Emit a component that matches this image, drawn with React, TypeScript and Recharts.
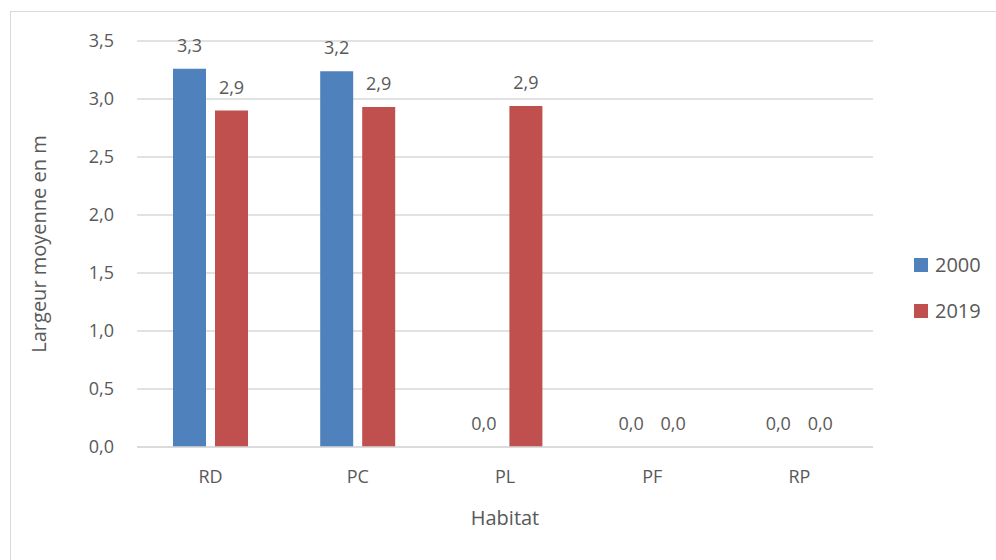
import { BarChart, Bar, XAxis, YAxis, CartesianGrid, LabelList, Label } from 'recharts'

const habitats = ['RD', 'PC', 'PL', 'PF', 'RP']
const values2000 = [3.26, 3.24, 0, 0, 0]
const values2019 = [2.9, 2.93, 2.94, 0, 0]
const yTicks = [0, 0.5, 1, 1.5, 2, 2.5, 3, 3.5]

const BLUE = '#4F81BD'
const RED = '#C0504D'
const TEXT = '#595959'
const FONT = '"Open Sans", "Noto Sans", sans-serif'

const data = habitats.map((h, i) => ({ habitat: h, y2000: values2000[i], y2019: values2019[i] }))

const fmt = (v: any) => Number(v).toFixed(1).replace('.', ',')

export default function App() {
  return (
    <div style={{ position: 'absolute', left: 0, top: 0, width: 996, height: 560, background: '#fff', overflow: 'hidden', fontFamily: FONT }}>
      <div style={{ position: 'absolute', left: 10, top: 11, width: 1000, height: 600, border: '1px solid #d9d9d9' }} />
      <BarChart
        width={996}
        height={560}
        data={data}
        margin={{ top: 41, right: 123, left: 77, bottom: 53 }}
        barSize={33}
        barGap={9}
        style={{ position: 'absolute', left: 0, top: 0 }}
      >
        <CartesianGrid vertical={false} stroke="#d9d9d9" strokeWidth={1.3} />
        <XAxis
          dataKey="habitat"
          axisLine={{ stroke: '#d9d9d9', strokeWidth: 1.3 }}
          tickLine={false}
          tickSize={0}
          tickMargin={23}
          tick={{ fill: TEXT, fontSize: 18, fontFamily: FONT }}
          height={60}
        >
          <Label value="Habitat" position="insideBottom" offset={-18} fill={TEXT} fontSize={20} fontFamily={FONT} />
        </XAxis>
        <YAxis
          domain={[0, 3.5]}
          ticks={yTicks}
          tickFormatter={fmt}
          axisLine={false}
          tickLine={false}
          tickSize={0}
          tickMargin={23}
          width={60}
          tick={{ fill: TEXT, fontSize: 18, fontFamily: FONT }}
        >
          <Label
            value="Largeur moyenne en m"
            angle={-90}
            position="insideLeft"
            offset={-38}
            fill={TEXT}
            fontSize={20}
            fontFamily={FONT}
            style={{ textAnchor: 'middle' }}
          />
        </YAxis>
        <Bar dataKey="y2000" name="2000" fill={BLUE} minPointSize={0.01} isAnimationActive={false}>
          <LabelList dataKey="y2000" position="top" offset={17} formatter={fmt} fill={TEXT} fontSize={18} fontFamily={FONT} />
        </Bar>
        <Bar dataKey="y2019" name="2019" fill={RED} minPointSize={0.01} isAnimationActive={false}>
          <LabelList dataKey="y2019" position="top" offset={17} formatter={fmt} fill={TEXT} fontSize={18} fontFamily={FONT} />
        </Bar>
      </BarChart>
      <div style={{ position: 'absolute', left: 914, top: 251, color: TEXT, fontSize: 20, lineHeight: '27px' }}>
        {[{ name: '2000', color: BLUE }, { name: '2019', color: RED }].map((s, i) => (
          <div key={s.name} style={{ display: 'flex', alignItems: 'center', marginTop: i ? 19 : 0 }}>
            <span style={{ width: 14, height: 14, background: s.color, display: 'inline-block', marginRight: 7 }} />
            <span>{s.name}</span>
          </div>
        ))}
      </div>
    </div>
  )
}
